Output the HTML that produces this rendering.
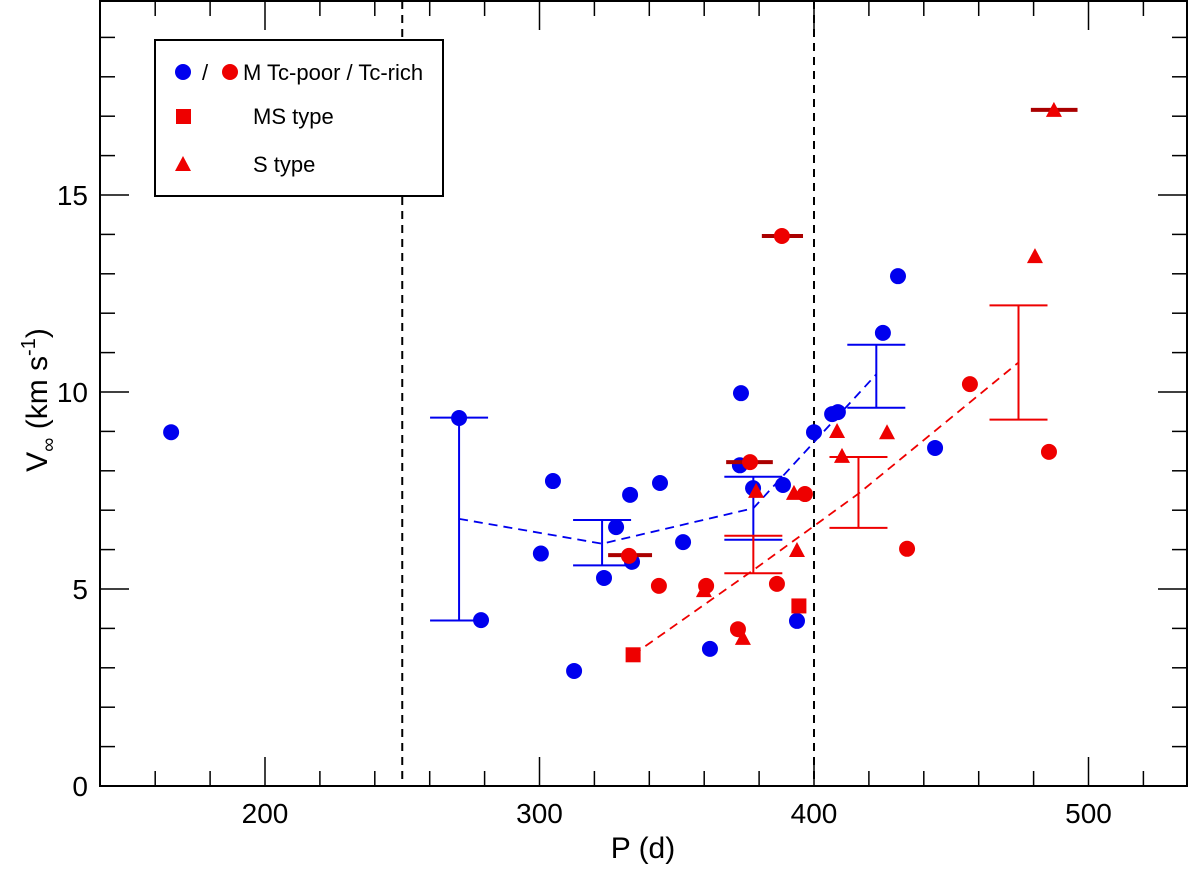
<!DOCTYPE html>
<html><head><meta charset="utf-8"><style>
html,body{margin:0;padding:0;background:#fff;}
svg text{font-family:"Liberation Sans",Arial,sans-serif;}
</style></head><body>
<svg id="chart" width="1200" height="864" viewBox="0 0 1200 864">
<g id="grid"></g><g id="marks"></g>
</svg>
<script>
const blueX=[165.8,270.7,278.7,300.5,304.9,312.6,323.5,327.9,333.7,333.0,343.9,352.3,362.1,373.4,373.0,377.8,388.7,393.8,400.0,406.6,408.7,425.1,430.6,444.1];
const blueY=[8.98,9.34,4.21,5.90,7.74,2.92,5.28,6.57,5.69,7.39,7.69,6.19,3.48,9.97,8.14,7.56,7.64,4.19,8.98,9.44,9.49,11.5,12.94,8.58];
const redCX=[332.6,343.5,360.7,372.3,376.7,386.5,388.3,396.7,433.9,456.8,485.6];
const redCY=[5.84,5.08,5.08,3.98,8.22,5.13,13.96,7.41,6.02,10.2,8.48];
const sqX=[334.1,394.5];
const sqY=[3.33,4.57];
const triX=[359.9,374.1,378.9,392.7,393.8,408.4,410.2,426.6,480.5,487.4];
const triY=[4.97,3.76,7.49,7.44,5.99,9.01,8.38,8.98,13.45,17.16];
const hbarX1=[325,368,381,479];
const hbarX2=[341,385,396,496];
const hbarY=[5.86,8.22,13.96,17.16];
const blueEbX=[270.7,322.8,377.9,422.7];
const blueEbLo=[4.2,5.6,6.25,9.6];
const blueEbHi=[9.35,6.75,7.85,11.2];
const blueMid=[6.78,6.15,7.05,10.45];
const redEbX=[334.1,377.9,416.2,474.5];
const redEbLo=[3.33,5.4,6.55,9.3];
const redEbHi=[3.33,6.35,8.35,12.2];
const redMid=[3.33,5.48,7.42,10.75];
const xTicks=[200,300,400,500];
const yTicks=[0,5,10,15];

const X=v=>265+(v-200)*2.745, Y=v=>786-v*39.4;
const NS="http://www.w3.org/2000/svg";
const g=document.getElementById('grid'), m=document.getElementById('marks');
function el(t,a,p){const e=document.createElementNS(NS,t);for(const k in a)e.setAttribute(k,a[k]);(p||m).appendChild(e);return e;}
// frame
let f=el('rect',{x:100,y:1,width:1087,height:785,fill:'none',stroke:'#000','stroke-width':2},g);

for(let v=160;v<=530;v+=20){const major=v%100===0;const x=X(v);
 el('line',{x1:x,y1:786,x2:x,y2:major?757:771,stroke:'#000','stroke-width':1.5},g);
 el('line',{x1:x,y1:1,x2:x,y2:major?30:16,stroke:'#000','stroke-width':1.5},g);}
for(let v=1;v<20;v++){const major=v%5===0;const y=Y(v);
 el('line',{x1:100,y1:y,x2:major?129:115,y2:y,stroke:'#000','stroke-width':1.5},g);
 el('line',{x1:1187,y1:y,x2:major?1158:1172,y2:y,stroke:'#000','stroke-width':1.5},g);}
xTicks.forEach(v=>{const t=el('text',{x:X(v),y:823,'font-size':28,'text-anchor':'middle'},g);t.textContent=v;
 });
yTicks.forEach(v=>{const t=el('text',{x:88,y:Y(v)+10,'font-size':28,'text-anchor':'end'},g);t.textContent=v;
 });
let xt=el('text',{x:643,y:858,'font-size':30,'text-anchor':'middle'},g);xt.textContent='P (d)';

let yt=el('text',{transform:'translate(47,400) rotate(-90)','font-size':30,'text-anchor':'middle'},g);
yt.innerHTML='V<tspan font-size="20" dy="8">∞</tspan><tspan dy="-8"> (km s</tspan><tspan font-size="20" dy="-12">-1</tspan><tspan dy="12">)</tspan>';

[250,400].forEach(v=>{const l=el('line',{x1:X(v),y1:1,x2:X(v),y2:786,stroke:'#000','stroke-width':2,'stroke-dasharray':'8,6'},g);
 });
// legend
let lg=el('g',{},g);
el('rect',{x:155,y:40,width:288,height:156,fill:'#fff',stroke:'#000','stroke-width':2},lg);
el('circle',{cx:183,cy:72,r:8,fill:'#0000ee'},lg);
el('circle',{cx:230,cy:72,r:8,fill:'#ee0000'},lg);
let l1=el('text',{x:202,y:80,'font-size':22},lg);l1.textContent='/';
let l2=el('text',{x:243,y:80,'font-size':22},lg);l2.textContent='M Tc-poor / Tc-rich';
el('rect',{x:176,y:109,width:15,height:15,fill:'#ee0000'},lg);
let l3=el('text',{x:253,y:124,'font-size':22},lg);l3.textContent='MS type';
el('polygon',{points:'183,156 175,171 191,171',fill:'#ee0000'},lg);
let l4=el('text',{x:253,y:172,'font-size':22},lg);l4.textContent='S type';
// dashed trend lines
function poly(xs,ys,c,name){const p=el('polyline',{points:xs.map((x,i)=>X(x)+','+Y(ys[i])).join(' '),fill:'none',stroke:c,'stroke-width':1.8,'stroke-dasharray':'9,6'});
 }
poly(blueEbX,blueMid,'#0000ee','blue-trend-line');
poly(redEbX,redMid,'#ee0000','red-trend-line');
function ebars(xs,lo,hi,c,name){xs.forEach((x,i)=>{if(lo[i]===hi[i])return;const gg=el('g',{});
 
 const cx=X(x);el('line',{x1:cx,y1:Y(lo[i]),x2:cx,y2:Y(hi[i]),stroke:c,'stroke-width':2},gg);
 el('line',{x1:cx-29,y1:Y(lo[i]),x2:cx+29,y2:Y(lo[i]),stroke:c,'stroke-width':2},gg);
 el('line',{x1:cx-29,y1:Y(hi[i]),x2:cx+29,y2:Y(hi[i]),stroke:c,'stroke-width':2},gg);});}
ebars(blueEbX,blueEbLo,blueEbHi,'#0000ee','blue-error-bar');
ebars(redEbX,redEbLo,redEbHi,'#ee0000','red-error-bar');
blueX.forEach((x,i)=>{const c=el('circle',{cx:X(x),cy:Y(blueY[i]),r:8,fill:'#0000ee'});
 });
hbarX1.forEach((x,i)=>{const l=el('line',{x1:X(x),y1:Y(hbarY[i]),x2:X(hbarX2[i]),y2:Y(hbarY[i]),stroke:'#aa0000','stroke-width':4});
 });
redCX.forEach((x,i)=>{const c=el('circle',{cx:X(x),cy:Y(redCY[i]),r:8,fill:'#ee0000'});
 });
sqX.forEach((x,i)=>{const r=el('rect',{x:X(x)-7.5,y:Y(sqY[i])-7.5,width:15,height:15,fill:'#ee0000'});
 });
triX.forEach((x,i)=>{const cx=X(x),cy=Y(triY[i]);
 const p=el('polygon',{points:`${cx},${cy-8} ${cx-8},${cy+7} ${cx+8},${cy+7}`,fill:'#ee0000'});
 });
</script>
</body></html>
